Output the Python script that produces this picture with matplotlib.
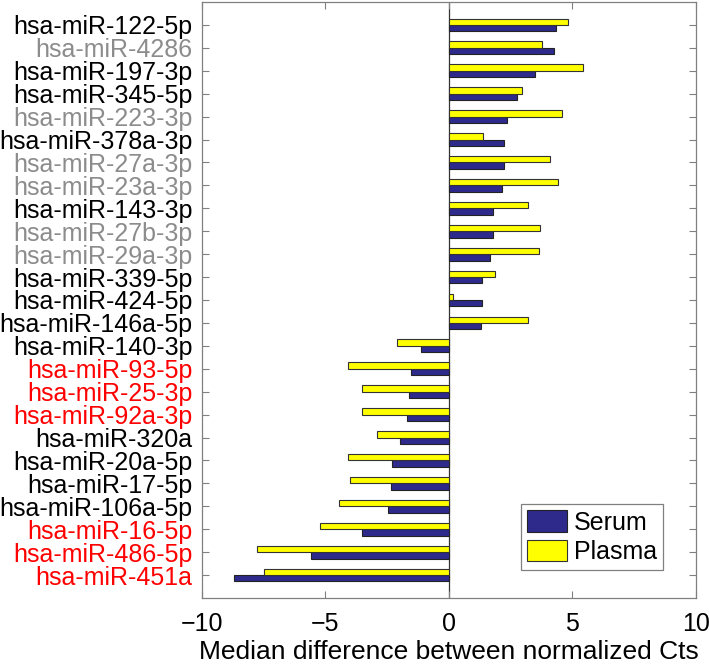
import numpy as np
import matplotlib
matplotlib.use('Agg')
import matplotlib.pyplot as plt

plt.rcParams['font.family'] = ['Liberation Sans', 'DejaVu Sans']

# mirna names, top to bottom
mirnas = ['hsa-miR-122-5p', 'hsa-miR-4286', 'hsa-miR-197-3p', 'hsa-miR-345-5p',
          'hsa-miR-223-3p', 'hsa-miR-378a-3p', 'hsa-miR-27a-3p', 'hsa-miR-23a-3p',
          'hsa-miR-143-3p', 'hsa-miR-27b-3p', 'hsa-miR-29a-3p', 'hsa-miR-339-5p',
          'hsa-miR-424-5p', 'hsa-miR-146a-5p', 'hsa-miR-140-3p', 'hsa-miR-93-5p',
          'hsa-miR-25-3p', 'hsa-miR-92a-3p', 'hsa-miR-320a', 'hsa-miR-20a-5p',
          'hsa-miR-17-5p', 'hsa-miR-106a-5p', 'hsa-miR-16-5p', 'hsa-miR-486-5p',
          'hsa-miR-451a']
# label group: k = black, g = gray, r = red
label_group = ['k', 'g', 'k', 'k', 'g', 'k', 'g', 'g', 'k', 'g', 'g', 'k', 'k',
               'k', 'k', 'r', 'r', 'r', 'k', 'k', 'k', 'k', 'r', 'r', 'r']

serum = [4.35, 4.28, 3.50, 2.77, 2.35, 2.23, 2.23, 2.17, 1.80, 1.80, 1.66, 1.34,
         1.34, 1.30, -1.11, -1.54, -1.59, -1.69, -1.98, -2.28, -2.32, -2.44,
         -3.49, -5.59, -8.70]
plasma = [4.85, 3.78, 5.43, 2.96, 4.60, 1.38, 4.12, 4.44, 3.21, 3.68, 3.64, 1.89,
          0.16, 3.21, -2.11, -4.06, -3.53, -3.51, -2.90, -4.09, -4.00, -4.43,
          -5.22, -7.76, -7.48]

label_colors = {'k': 'black', 'g': '#8c8c8c', 'r': '#ff0000'}
navy = '#2e2a8c'
yellow = '#ffff00'

fig = plt.figure(figsize=(7.09, 6.68), dpi=100)
ax = fig.add_axes([0.2845, 0.1048, 0.6967, 0.8922])

y = np.arange(1, len(mirnas) + 1)
h = 0.28
ax.barh(y + h / 2, serum, height=h, color=navy, edgecolor='#222222', linewidth=0.8, label='Serum')
ax.barh(y - h / 2, plasma, height=h, color=yellow, edgecolor='#333333', linewidth=0.8, label='Plasma')
ax.axvline(0, color='#333333', linewidth=0.9, zorder=0)

ax.set_xlim(-10, 10)
ax.set_ylim(len(mirnas) + 1, 0)
ax.set_xticks([-10, -5, 0, 5, 10])
ax.set_xticklabels(['\u221210', '\u22125', '0', '5', '10'])
ax.set_yticks(y)
ax.set_yticklabels(mirnas)
for lbl, grp in zip(ax.get_yticklabels(), label_group):
    lbl.set_color(label_colors[grp])

ax.tick_params(axis='both', direction='in', length=5, width=0.8, color='#808080',
               labelsize=18, top=True, right=True)
ax.tick_params(axis='y', pad=6.5)
ax.tick_params(axis='x', pad=10)
for s in ax.spines.values():
    s.set_color('#808080')
    s.set_linewidth(0.9)

ax.set_xlabel('Median difference between normalized Cts', fontsize=19, labelpad=3)

leg = ax.legend(loc='lower right', bbox_to_anchor=(0.934, 0.047), borderaxespad=0,
                fontsize=18, fancybox=False, edgecolor='#808080', framealpha=1,
                handlelength=1.6, handleheight=0.92, handletextpad=0.25,
                labelspacing=0.2, borderpad=0.25)
leg.get_frame().set_linewidth(0.9)

fig.savefig('out.png', dpi=100)
